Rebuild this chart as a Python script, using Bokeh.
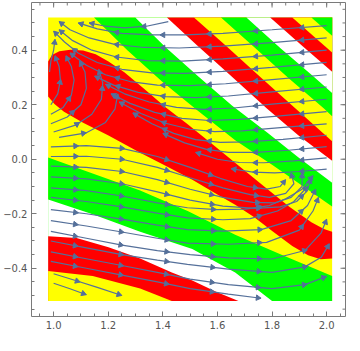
import math
from bokeh.plotting import figure
from bokeh.models import Range1d, FixedTicker, CustomJSTickFormatter
from bokeh.embed import file_html
from bokeh.resources import INLINE

# ---------------- data ----------------
x_lo, x_hi, y_lo, y_hi = 0.98, 2.02, -0.52, 0.52

x_major = [1.0, 1.2, 1.4, 1.6, 1.8, 2.0]
y_major = [-0.4, -0.2, 0.0, 0.2, 0.4]
x_minor = [0.95 + 0.05 * i for i in range(23)]
y_minor = [-0.55 + 0.05 * i for i in range(23)]

RED, YEL, GRN, WHT = "#ff0000", "#ffff00", "#00ff00", "#ffffff"

# band edges on the upper-right side (top edge -> right edge), painted in order
upper_edges = [
    (GRN, [(1.148, 0.520), (1.270, 0.400), (1.398, 0.284), (1.526, 0.180), (1.665, 0.070), (1.804, -0.023), (1.920, -0.104), (2.020, -0.173)]),
    (WHT, [(1.299, 0.520), (1.410, 0.411), (1.526, 0.307), (1.653, 0.197), (1.781, 0.099), (1.897, 0.006), (2.020, -0.086)]),
    (RED, [(1.415, 0.520), (1.526, 0.417), (1.642, 0.313), (1.781, 0.186), (1.897, 0.087), (2.020, -0.006)]),
    (YEL, [(1.514, 0.520), (1.630, 0.417), (1.758, 0.301), (1.886, 0.186), (2.020, 0.066)]),
    (GRN, [(1.613, 0.520), (1.735, 0.411), (1.862, 0.296), (1.990, 0.186), (2.020, 0.158)]),
    (WHT, [(1.706, 0.520), (1.833, 0.405), (1.955, 0.301), (2.020, 0.243)]),
    (RED, [(1.793, 0.520), (1.909, 0.417), (2.020, 0.321)]),
    (YEL, [(1.874, 0.520), (2.020, 0.392)]),
    (GRN, [(1.944, 0.520), (2.020, 0.453)]),
]

# band edges on the lower-left side (left edge -> right/bottom edge)
lower_edges = [
    (GRN, [(0.980, 0.006), (1.143, -0.052), (1.317, -0.115), (1.491, -0.190), (1.665, -0.277), (1.839, -0.352), (2.020, -0.428)]),
    (WHT, [(0.980, -0.148), (1.143, -0.202), (1.317, -0.266), (1.508, -0.329), (1.665, -0.416), (1.800, -0.520)]),
    (RED, [(0.980, -0.283), (1.084, -0.289), (1.201, -0.323), (1.317, -0.364), (1.433, -0.416), (1.508, -0.445), (1.595, -0.486), (1.677, -0.520)]),
    (YEL, [(0.980, -0.410), (1.143, -0.428), (1.317, -0.474), (1.433, -0.520)]),
]

# the long red band
red_band = [(0.980, 0.359), (0.994, 0.382), (1.021, 0.396), (1.061, 0.402), (1.108, 0.399), (1.154, 0.385),
            (1.201, 0.359), (1.259, 0.319), (1.328, 0.261), (1.410, 0.191), (1.491, 0.128), (1.584, 0.053),
            (1.677, -0.023), (1.769, -0.098), (1.862, -0.173), (1.944, -0.231), (1.990, -0.256), (2.020, -0.266),
            (2.020, -0.364), (1.978, -0.367), (1.932, -0.352), (1.874, -0.318), (1.804, -0.266), (1.735, -0.213),
            (1.665, -0.167), (1.595, -0.127), (1.508, -0.075), (1.433, -0.036), (1.317, 0.024), (1.201, 0.087),
            (1.108, 0.134), (1.038, 0.174), (1.003, 0.203), (0.980, 0.230)]

# stream lines, each listed in the direction of flow
streams_upper = [
    [(1.42, 0.505), (1.34, 0.488), (1.26, 0.482), (1.19, 0.488), (1.13, 0.50)],
    [(2.00, 0.490), (1.80, 0.475), (1.62, 0.462), (1.48, 0.456), (1.36, 0.456), (1.25, 0.462), (1.16, 0.478), (1.09, 0.50)],
    [(2.00, 0.445), (1.80, 0.428), (1.62, 0.415), (1.46, 0.408), (1.33, 0.41), (1.22, 0.422), (1.13, 0.445), (1.06, 0.475), (1.02, 0.505)],
    [(2.00, 0.400), (1.80, 0.382), (1.62, 0.368), (1.47, 0.36), (1.34, 0.362), (1.23, 0.375), (1.14, 0.40), (1.07, 0.435), (1.02, 0.475)],
    [(2.00, 0.355), (1.80, 0.337), (1.62, 0.322), (1.48, 0.315), (1.36, 0.317), (1.25, 0.33), (1.16, 0.355), (1.09, 0.39), (1.04, 0.43), (1.00, 0.47)],
    [(2.00, 0.310), (1.80, 0.292), (1.63, 0.277), (1.50, 0.27), (1.38, 0.272), (1.28, 0.285), (1.19, 0.31), (1.12, 0.345), (1.06, 0.39)],
    [(2.00, 0.265), (1.80, 0.247), (1.64, 0.232), (1.52, 0.226), (1.41, 0.23), (1.31, 0.245), (1.22, 0.272), (1.15, 0.305)],
    [(2.00, 0.220), (1.80, 0.202), (1.66, 0.188), (1.55, 0.183), (1.45, 0.19), (1.35, 0.21), (1.26, 0.24), (1.19, 0.275)],
    [(2.00, 0.175), (1.82, 0.158), (1.68, 0.146), (1.57, 0.142), (1.47, 0.15), (1.37, 0.172), (1.28, 0.205), (1.21, 0.24)],
    [(2.00, 0.130), (1.82, 0.115), (1.69, 0.104), (1.59, 0.101), (1.50, 0.11), (1.41, 0.132), (1.32, 0.168), (1.24, 0.21)],
    [(2.00, 0.088), (1.84, 0.073), (1.71, 0.064), (1.61, 0.062), (1.52, 0.072), (1.44, 0.095), (1.36, 0.13), (1.29, 0.17)],
    [(2.00, 0.046), (1.86, 0.033), (1.74, 0.025), (1.64, 0.025), (1.56, 0.036), (1.48, 0.06), (1.40, 0.095)],
    [(2.00, 0.005), (1.88, -0.006), (1.77, -0.013), (1.68, -0.012), (1.60, 0.0), (1.52, 0.025)],
    [(2.00, -0.036), (1.90, -0.045), (1.81, -0.05), (1.73, -0.047), (1.65, -0.035)],
]

streams_band = [
    [(0.985, 0.32), (0.99, 0.36), (1.00, 0.40), (1.005, 0.44)],
    [(0.99, 0.20), (1.015, 0.24), (1.025, 0.29), (1.02, 0.34), (1.005, 0.38)],
    [(0.99, 0.165), (1.035, 0.19), (1.065, 0.235), (1.075, 0.29), (1.065, 0.34), (1.045, 0.38)],
    [(0.99, 0.13), (1.05, 0.155), (1.10, 0.20), (1.12, 0.26), (1.115, 0.32), (1.095, 0.36)],
    [(1.00, 0.10), (1.08, 0.125), (1.14, 0.165), (1.175, 0.22), (1.18, 0.28), (1.165, 0.33)],
    [(1.02, 0.08), (1.12, 0.097), (1.19, 0.135), (1.225, 0.185), (1.235, 0.24)],
]

streams_lower = [
    [(0.99, 0.045), (1.12, 0.05), (1.25, 0.04), (1.38, 0.01), (1.50, -0.03), (1.61, -0.07), (1.71, -0.10), (1.78, -0.11), (1.83, -0.10), (1.85, -0.075)],
    [(0.99, 0.010), (1.12, 0.011), (1.25, 0.0), (1.38, -0.03), (1.50, -0.068), (1.62, -0.105), (1.72, -0.13), (1.79, -0.14), (1.85, -0.125), (1.88, -0.09), (1.87, -0.05)],
    [(0.99, -0.025), (1.12, -0.03), (1.25, -0.045), (1.38, -0.075), (1.50, -0.11), (1.62, -0.14), (1.73, -0.158), (1.81, -0.16), (1.87, -0.14), (1.91, -0.10), (1.91, -0.05)],
    [(0.99, -0.065), (1.12, -0.072), (1.25, -0.09), (1.38, -0.12), (1.50, -0.15), (1.62, -0.172), (1.74, -0.18), (1.83, -0.175), (1.89, -0.155), (1.93, -0.115), (1.94, -0.07)],
    [(0.99, -0.105), (1.12, -0.115), (1.25, -0.135), (1.38, -0.16), (1.49, -0.178), (1.60, -0.185), (1.70, -0.183), (1.79, -0.17), (1.85, -0.145), (1.91, -0.11), (1.95, -0.06)],
    [(0.99, -0.14), (1.12, -0.155), (1.25, -0.175), (1.38, -0.198), (1.49, -0.215), (1.62, -0.222), (1.72, -0.218), (1.82, -0.19), (1.88, -0.155), (1.93, -0.10)],
    [(0.99, -0.185), (1.12, -0.2), (1.25, -0.22), (1.38, -0.242), (1.49, -0.258), (1.62, -0.264), (1.76, -0.258), (1.87, -0.225), (1.93, -0.17), (1.96, -0.11)],
    [(0.99, -0.225), (1.12, -0.245), (1.25, -0.267), (1.38, -0.29), (1.49, -0.308), (1.64, -0.312), (1.78, -0.305), (1.90, -0.26), (1.95, -0.19), (1.97, -0.14)],
    [(0.99, -0.265), (1.12, -0.29), (1.25, -0.315), (1.38, -0.335), (1.50, -0.35), (1.64, -0.362), (1.80, -0.366), (1.92, -0.335), (1.98, -0.27), (2.00, -0.22)],
    [(0.99, -0.30), (1.12, -0.325), (1.25, -0.35), (1.38, -0.37), (1.49, -0.386), (1.64, -0.403), (1.80, -0.415), (1.92, -0.395), (1.98, -0.36), (2.01, -0.31)],
    [(0.99, -0.34), (1.12, -0.365), (1.25, -0.39), (1.38, -0.415), (1.50, -0.44), (1.64, -0.46), (1.80, -0.475), (1.92, -0.46), (2.00, -0.43)],
    [(0.99, -0.375), (1.12, -0.40), (1.25, -0.425), (1.38, -0.45), (1.50, -0.475), (1.64, -0.495), (1.76, -0.51)],
    [(1.00, -0.42), (1.08, -0.445), (1.16, -0.47), (1.25, -0.50)],
    [(1.00, -0.455), (1.06, -0.475), (1.12, -0.497)],
]

# ---------------- figure ----------------
FRAME = "#7a7a7a"
LABEL = "#555555"
STREAM = "#55709a"
XR = (0.919, 2.069)
YR = (-0.577, 0.575)
FW = FH = 314

p = figure(frame_width=FW, frame_height=FH,
           x_range=Range1d(*XR), y_range=Range1d(*YR),
           output_backend="svg", toolbar_location=None, min_border=0,
           min_border_right=2, min_border_top=2,
           background_fill_color="white", border_fill_color="white")
p.grid.visible = False
p.outline_line_color = FRAME
p.outline_line_width = 1

# base colour of the region
p.patch([x_lo, x_hi, x_hi, x_lo], [y_lo, y_lo, y_hi, y_hi], fill_color=YEL, line_color=None)

for col, edge in upper_edges:
    xs = [e[0] for e in edge] + [x_hi]
    ys = [e[1] for e in edge] + [y_hi]
    p.patch(xs, ys, fill_color=col, line_color=None)

for col, edge in lower_edges:
    xs = [e[0] for e in edge]
    ys = [e[1] for e in edge]
    if abs(xs[-1] - x_hi) < 1e-9:
        xs += [x_hi, x_lo]
        ys += [y_lo, y_lo]
    else:
        xs += [x_lo]
        ys += [y_lo]
    p.patch(xs, ys, fill_color=col, line_color=None)

p.patch([q[0] for q in red_band], [q[1] for q in red_band], fill_color=RED, line_color=None)

all_streams = streams_upper + streams_band + streams_lower
p.multi_line([[q[0] for q in s] for s in all_streams], [[q[1] for q in s] for s in all_streams],
             line_color=STREAM, line_width=1.2)

# arrow heads placed along each stream
ax_, ay_, ang_ = [], [], []
for s in all_streams:
    seg = [math.hypot(b[0] - a[0], b[1] - a[1]) for a, b in zip(s[:-1], s[1:])]
    total = sum(seg)
    marks = []
    t = 0.09
    while t < total - 0.07:
        marks.append(t)
        t += 0.17
    marks.append(total - 0.012)
    for m in marks:
        acc = 0.0
        for i, L in enumerate(seg):
            if acc + L >= m or i == len(seg) - 1:
                f = (m - acc) / L if L > 0 else 0
                f = min(max(f, 0), 1)
                a, b = s[i], s[i + 1]
                ax_.append(a[0] + f * (b[0] - a[0]))
                ay_.append(a[1] + f * (b[1] - a[1]))
                ang_.append(math.atan2(b[1] - a[1], b[0] - a[0]) - math.pi / 2)
                break
            acc += L
p.scatter(ax_, ay_, marker="triangle", angle=ang_, size=5.5, fill_color=STREAM, line_color=STREAM)

fmt = CustomJSTickFormatter(code="return tick.toFixed(1).replace('-', '\\u2212');")


def style(ax, xdir):
    ax.ticker = FixedTicker(ticks=x_major if xdir else y_major, minor_ticks=x_minor if xdir else y_minor)
    ax.axis_line_color = None
    ax.major_tick_line_color = FRAME
    ax.minor_tick_line_color = FRAME
    ax.major_tick_in = 5
    ax.major_tick_out = 0
    ax.minor_tick_in = 3
    ax.minor_tick_out = 0
    ax.formatter = fmt
    ax.major_label_text_font = "DejaVu Sans"
    ax.major_label_text_font_size = "10px"
    ax.major_label_text_color = LABEL
    ax.major_label_standoff = 4


style(p.xaxis[0], True)
style(p.yaxis[0], False)

# tick marks on the top and right sides of the frame (no labels there)
kx = (XR[1] - XR[0]) / FW
ky = (YR[1] - YR[0]) / FH
tx0, tx1, ty0, ty1 = [], [], [], []
for v in x_major:
    tx0.append(v); tx1.append(v); ty0.append(YR[1]); ty1.append(YR[1] - 5 * ky)
for v in x_minor:
    if XR[0] < v < XR[1]:
        tx0.append(v); tx1.append(v); ty0.append(YR[1]); ty1.append(YR[1] - 3 * ky)
for v in y_major:
    tx0.append(XR[1]); tx1.append(XR[1] - 5 * kx); ty0.append(v); ty1.append(v)
for v in y_minor:
    if YR[0] < v < YR[1]:
        tx0.append(XR[1]); tx1.append(XR[1] - 3 * kx); ty0.append(v); ty1.append(v)
p.segment(tx0, ty0, tx1, ty1, line_color=FRAME, line_width=1)

open("out.html", "w").write(file_html(p, INLINE))
